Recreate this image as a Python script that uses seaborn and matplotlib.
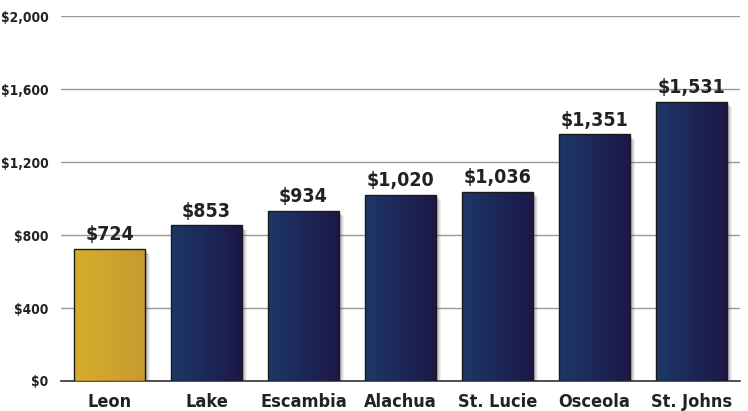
import numpy as np
import pandas as pd
import matplotlib
matplotlib.use("Agg")
import matplotlib.pyplot as plt
from matplotlib.patches import Rectangle
from matplotlib.colors import LinearSegmentedColormap
from matplotlib.ticker import FixedLocator
import seaborn as sns

counties = ["Leon", "Lake", "Escambia", "Alachua", "St. Lucie", "Osceola", "St. Johns"]
amounts = [724, 853, 934, 1020, 1036, 1351, 1531]
y_ticks = [0, 400, 800, 1200, 1600, 2000]

sns.set_theme(style="white")
plt.rcParams["font.family"] = ["DejaVu Sans"]
plt.rcParams["font.stretch"] = "condensed"
plt.rcParams["font.weight"] = "bold"

df = pd.DataFrame({"county": counties, "amount": amounts})

fig = plt.figure(figsize=(7.48, 4.11), dpi=100)
ax = fig.add_axes([0.0816, 0.073, 0.9074, 0.888])

sns.barplot(data=df, x="county", y="amount", ax=ax, width=0.73,
            color="#1F3766", edgecolor="#1a1a1a", linewidth=1.0, zorder=3)

gold = LinearSegmentedColormap.from_list("gold", ["#D6AE2A", "#C79A30"])
navy = LinearSegmentedColormap.from_list("navy", ["#1E3868", "#1C1848"])
grad = np.linspace(0, 1, 256).reshape(1, -1)

for i, patch in enumerate(ax.patches[:len(counties)]):
    x0, y0 = patch.get_x(), patch.get_y()
    w, h = patch.get_width(), patch.get_height()
    patch.set_facecolor("none")
    # soft drop shadow to the lower right
    for k, a in enumerate([0.16, 0.14, 0.12, 0.10, 0.08]):
        dx = 0.008 + 0.011 * k
        ax.add_patch(Rectangle((x0 + dx, y0), w, h - 8 - 5 * k, facecolor="#444444",
                               edgecolor="none", alpha=a, zorder=2.5))
    im = ax.imshow(grad, cmap=gold if i == 0 else navy, aspect="auto",
                   extent=(x0, x0 + w, y0, y0 + h), zorder=2.9, interpolation="bilinear")
    im.set_clip_path(patch)
    ax.text(x0 + w / 2, h + 25, f"${amounts[i]:,}", ha="center", va="bottom",
            fontsize=14, fontweight="bold", color="#222222", zorder=4)

ax.set_xlim(-0.5, len(counties) - 0.5)
ax.set_ylim(0, 2000)
ax.set_yticks(y_ticks)
ax.set_yticklabels([f"${v:,}" for v in y_ticks])
ax.yaxis.grid(True, color="#9a9a9a", linewidth=1.0, zorder=0)
ax.set_axisbelow(True)
ax.set_xlabel("")
ax.set_ylabel("")

for s in ["top", "right", "left"]:
    ax.spines[s].set_visible(False)
ax.spines["bottom"].set_color("#333333")
ax.spines["bottom"].set_linewidth(1.2)

ax.tick_params(axis="y", length=0, pad=9, labelsize=9.8, labelcolor="#222222")
ax.tick_params(axis="x", which="major", length=0, pad=9, labelsize=13, labelcolor="#222222")
ax.xaxis.set_minor_locator(FixedLocator(np.arange(-0.5, len(counties), 1.0)))
ax.tick_params(axis="x", which="minor", direction="in", length=8, width=1.0, color="#777777")

for lbl in ax.get_xticklabels() + ax.get_yticklabels():
    lbl.set_fontweight("bold")
    lbl.set_fontstretch("condensed")

fig.savefig("out.png", dpi=100, facecolor="white")
